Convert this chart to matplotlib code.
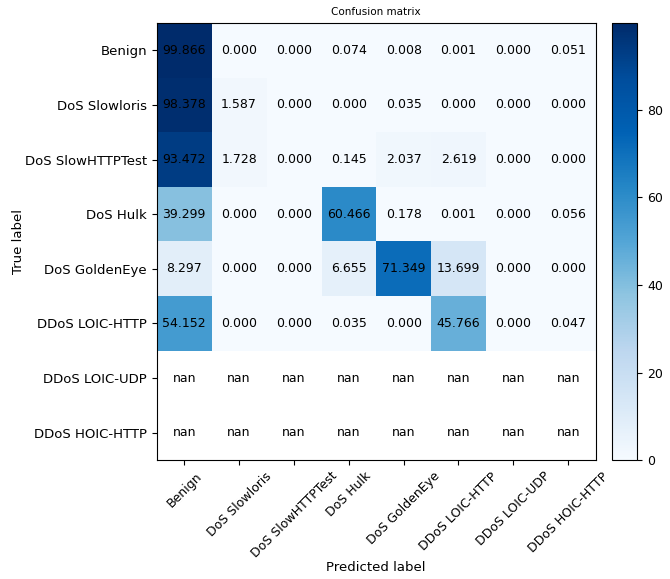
import numpy as np
import matplotlib
matplotlib.use('Agg')
import matplotlib.pyplot as plt
from matplotlib.colors import ListedColormap, rgb_to_hsv, hsv_to_rgb

classes = ['Benign', 'DoS Slowloris', 'DoS SlowHTTPTest', 'DoS Hulk',
           'DoS GoldenEye', 'DDoS LOIC-HTTP', 'DDoS LOIC-UDP', 'DDoS HOIC-HTTP']

nan = np.nan
row_benign = [99.866, 0.000, 0.000, 0.074, 0.008, 0.001, 0.000, 0.051]
row_slowloris = [98.378, 1.587, 0.000, 0.000, 0.035, 0.000, 0.000, 0.000]
row_slowhttp = [93.472, 1.728, 0.000, 0.145, 2.037, 2.619, 0.000, 0.000]
row_hulk = [39.299, 0.000, 0.000, 60.466, 0.178, 0.001, 0.000, 0.056]
row_goldeneye = [8.297, 0.000, 0.000, 6.655, 71.349, 13.699, 0.000, 0.000]
row_loic_http = [54.152, 0.000, 0.000, 0.035, 0.000, 45.766, 0.000, 0.047]
row_loic_udp = [nan] * 8
row_hoic_http = [nan] * 8

cm = np.array([row_benign, row_slowloris, row_slowhttp, row_hulk,
               row_goldeneye, row_loic_http, row_loic_udp, row_hoic_http])

# Blues, a bit more saturated like the reference render
base = plt.cm.Blues(np.linspace(0, 1, 256))[:, :3]
hsv = rgb_to_hsv(base)
hsv[:, 1] = np.clip(hsv[:, 1] * 1.22, 0, 1)
cmap = ListedColormap(hsv_to_rgb(hsv))

fig = plt.figure(figsize=(6.7, 5.79), dpi=100)
ax = fig.add_axes([0.234, 0.2055, 0.655, 0.7547])
cax = fig.add_axes([0.914, 0.2055, 0.037, 0.7547])

im = ax.imshow(cm, interpolation='nearest', cmap=cmap, aspect='auto')
ax.set_title('Confusion matrix', fontsize=7.5)
cb = fig.colorbar(im, cax=cax)
cb.ax.tick_params(labelsize=9)

ticks = np.arange(len(classes))
ax.set_xticks(ticks)
ax.set_xticklabels(classes, rotation=45, fontsize=9)
ax.set_yticks(ticks)
ax.set_yticklabels(classes, fontsize=9.5)

for i in range(cm.shape[0]):
    for j in range(cm.shape[1]):
        ax.text(j, i, format(cm[i, j], '.3f'),
                ha='center', va='center', color='black', fontsize=9)

ax.set_ylabel('True label', fontsize=9.5, labelpad=0)
ax.set_xlabel('Predicted label', fontsize=9.5, labelpad=0)

fig.savefig('out.png', dpi=100)
